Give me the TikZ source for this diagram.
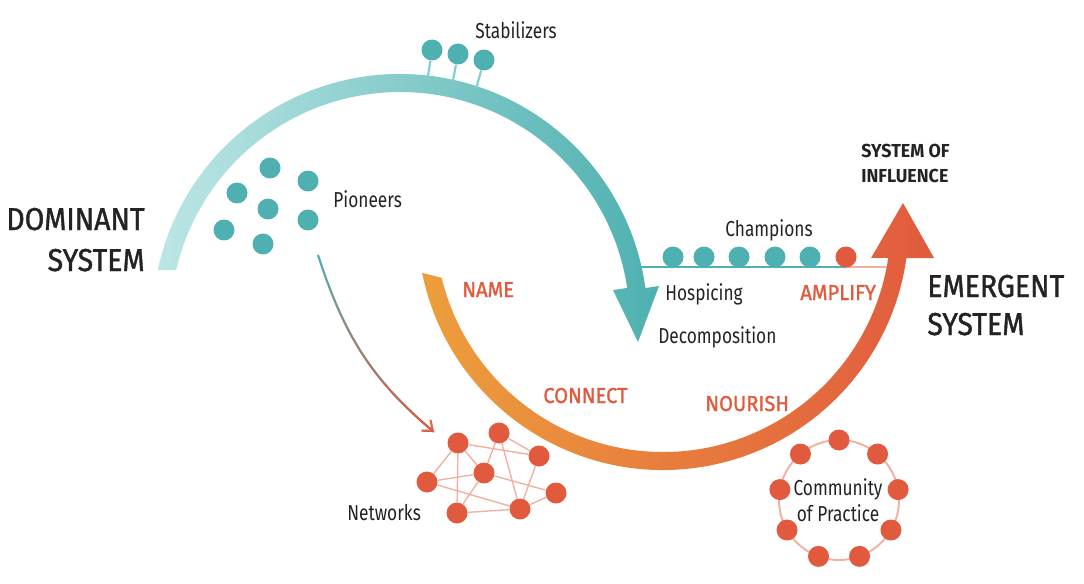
\documentclass[tikz,border=0pt]{standalone}
\usepackage{fontspec}
\setmainfont{Fira Sans}[FakeStretch=0.8]
\newfontfamily\medfont{Fira Sans}[FakeStretch=0.93, FakeBold=1.2]
\newfontfamily\bigfont{Fira Sans}[FakeStretch=0.9, FakeBold=1.2]
\newfontfamily\inflfont{Fira Sans}[FakeStretch=0.95]
\usetikzlibrary{calc,fadings,arrows.meta}
\definecolor{tealdark}{RGB}{78,176,176}
\definecolor{teallight}{RGB}{188,230,229}
\definecolor{tealstem}{RGB}{125,207,206}
\definecolor{orangeY}{RGB}{237,158,60}
\definecolor{orangeR}{RGB}{225,90,62}
\definecolor{salmon}{RGB}{243,176,162}
\definecolor{ink}{RGB}{35,35,35}
\tikzset{
	tdot/.style={circle, fill=tealdark, inner sep=0pt, minimum size=0.42cm},
	rdot/.style={circle, fill=orangeR, inner sep=0pt, minimum size=0.42cm},
	lbl/.style={text=ink, font=\fontsize{12.3}{14.7}\selectfont, inner sep=0pt},
	act/.style={text=orangeR, font=\medfont\fontsize{12.3}{14.7}\selectfont, inner sep=0pt},
	big/.style={text=ink, font=\bigfont\fontsize{18}{23}\selectfont, inner sep=0pt},
	infl/.style={text=ink, font=\inflfont\bfseries\fontsize{10.7}{14}\selectfont, inner sep=0pt},
	netline/.style={salmon, line width=0.8pt},
}

\begin{document}
\begin{tikzpicture}[x=0.02cm, y=0.02cm]
		%%%%% START %%%%%
		\useasboundingbox (0,0) rectangle (1084,-584);
		
		\coordinate (dc) at (400,-321.7);
		\coordinate (ec) at (663,-224.3);
		
		% champions line
		\coordinate (chl) at (637,-267);
		\coordinate (chm) at (846,-267);
		\coordinate (chr) at (891,-267);
		\draw[tealdark, line width=1.1pt] (chl) -- (chm);
		\draw[salmon, line width=1.1pt] (chm) -- (chr);
		
		% dominant system arc
		\shade[left color=teallight, right color=tealdark]
			([shift={(dc)}]167.95:247.7) arc[start angle=167.95, end angle=7.82, radius=247.7]
			-- (659,-286) -- (638,-342) -- (613,-290)
			-- ([shift={(dc)}]8.44:229.7) arc[start angle=8.44, end angle=167.0, radius=229.7] -- cycle;
		
		% emergent system arc
		\shade[left color=orangeY, right color=orangeR]
			([shift={(ec)}]191.4:245.7) arc[start angle=191.4, end angle=352.1, radius=245.7]
			-- (934,-258) -- (903,-203) -- (871,-258)
			-- ([shift={(ec)}]351.5:227.7) arc[start angle=351.5, end angle=193.6, radius=227.7] -- cycle;
		
		% stabilizers
		\node[tdot] (s1) at (432,-50) {};
		\node[tdot] (s2) at (458,-54) {};
		\node[tdot] (s3) at (484,-60) {};
		\draw[tealstem, line width=1.2pt] (s1) -- ([shift={(dc)}]83.5:246);
		\draw[tealstem, line width=1.2pt] (s2) -- ([shift={(dc)}]77.6:246);
		\draw[tealstem, line width=1.2pt] (s3) -- ([shift={(dc)}]71.9:246);
		\node[lbl, anchor=base west] (stab) at (475,-39) {Stabilizers};
		
		% pioneers
		\node[tdot] (p1) at (270,-168) {};
		\node[tdot] (p2) at (308,-181) {};
		\node[tdot] (p3) at (237,-193) {};
		\node[tdot] (p4) at (268,-209) {};
		\node[tdot] (p5) at (308,-220) {};
		\node[tdot] (p6) at (224,-230) {};
		\node[tdot] (p7) at (263,-244) {};
		\node[lbl, anchor=base west] (pion) at (333,-208) {Pioneers};
		
		% pioneers to networks
		\coordinate (pstart) at (318,-255);
		\coordinate (pend) at (434,-432);
		\draw[tealdark, line width=1.2pt] (pstart) to[out=-72, in=140] (pend);
		\draw[orangeR, line width=1.2pt, path fading=north, -{Straight Barb[length=5pt, width=8pt]}]
			(pstart) to[out=-72, in=140] (pend);
		
		% networks
		\node[rdot] (n1) at (458,-443) {};
		\node[rdot] (n2) at (499,-433) {};
		\node[rdot] (n3) at (539,-456) {};
		\node[rdot] (n4) at (484,-473) {};
		\node[rdot] (n5) at (427,-482) {};
		\node[rdot] (n6) at (556,-493) {};
		\node[rdot] (n7) at (520,-509) {};
		\node[rdot] (n8) at (457,-513) {};
		\foreach \a/\b in {n1/n3, n2/n3, n2/n4, n2/n7, n1/n4, n1/n5, n1/n8, n5/n4,
			n5/n7, n4/n8, n4/n6, n3/n7, n6/n7, n8/n7}
			\draw[netline] (\a) -- (\b);
		\node[lbl, anchor=base west] (netw) at (347,-520) {Networks};
		
		% community of practice
		\coordinate (cp) at (839,-500);
		\draw[netline, line width=1.1pt] (cp) circle (60);
		\foreach \ang [count=\i] in {90,50,10,-30,-70,-110,-150,-190,-230}
			\node[rdot] (c\i) at ([shift={(cp)}]\ang:60) {};
		\node[lbl, align=center] (comm) at (838,-500) {Community\\of Practice};
		
		% champions
		\foreach \cx [count=\i] in {673,704,739,775,810}
			\node[tdot] (ch\i) at (\cx,-257) {};
		\node[rdot] (ch6) at (846,-257) {};
		\node[lbl, anchor=base west] (champ) at (725,-236) {Champions};
		
		\node[lbl, anchor=base west] (hosp) at (665,-300) {Hospicing};
		\node[lbl, anchor=base west] (decomp) at (658,-343) {Decomposition};
		
		% actions
		\node[act, anchor=base west] (name) at (462,-297) {NAME};
		\node[act, anchor=base west] (conn) at (543,-403) {CONNECT};
		\node[act, anchor=base west] (nour) at (705,-411) {NOURISH};
		\node[act, anchor=base west] (ampl) at (800,-300) {AMPLIFY};
		
		% systems
		\node[big, anchor=base east] (dom1) at (145,-230) {DOMINANT};
		\node[big, anchor=base east] (dom2) at (145,-271) {SYSTEM};
		\node[big, anchor=base west] (em1) at (927,-297) {EMERGENT};
		\node[big, anchor=base west] (em2) at (927,-335) {SYSTEM};
		\node[infl, anchor=base west] (inf1) at (861,-158) {SYSTEM OF};
		\node[infl, anchor=base west] (inf2) at (861,-183) {INFLUENCE};
		%%%%% END %%%%%
\end{tikzpicture}
\end{document}
